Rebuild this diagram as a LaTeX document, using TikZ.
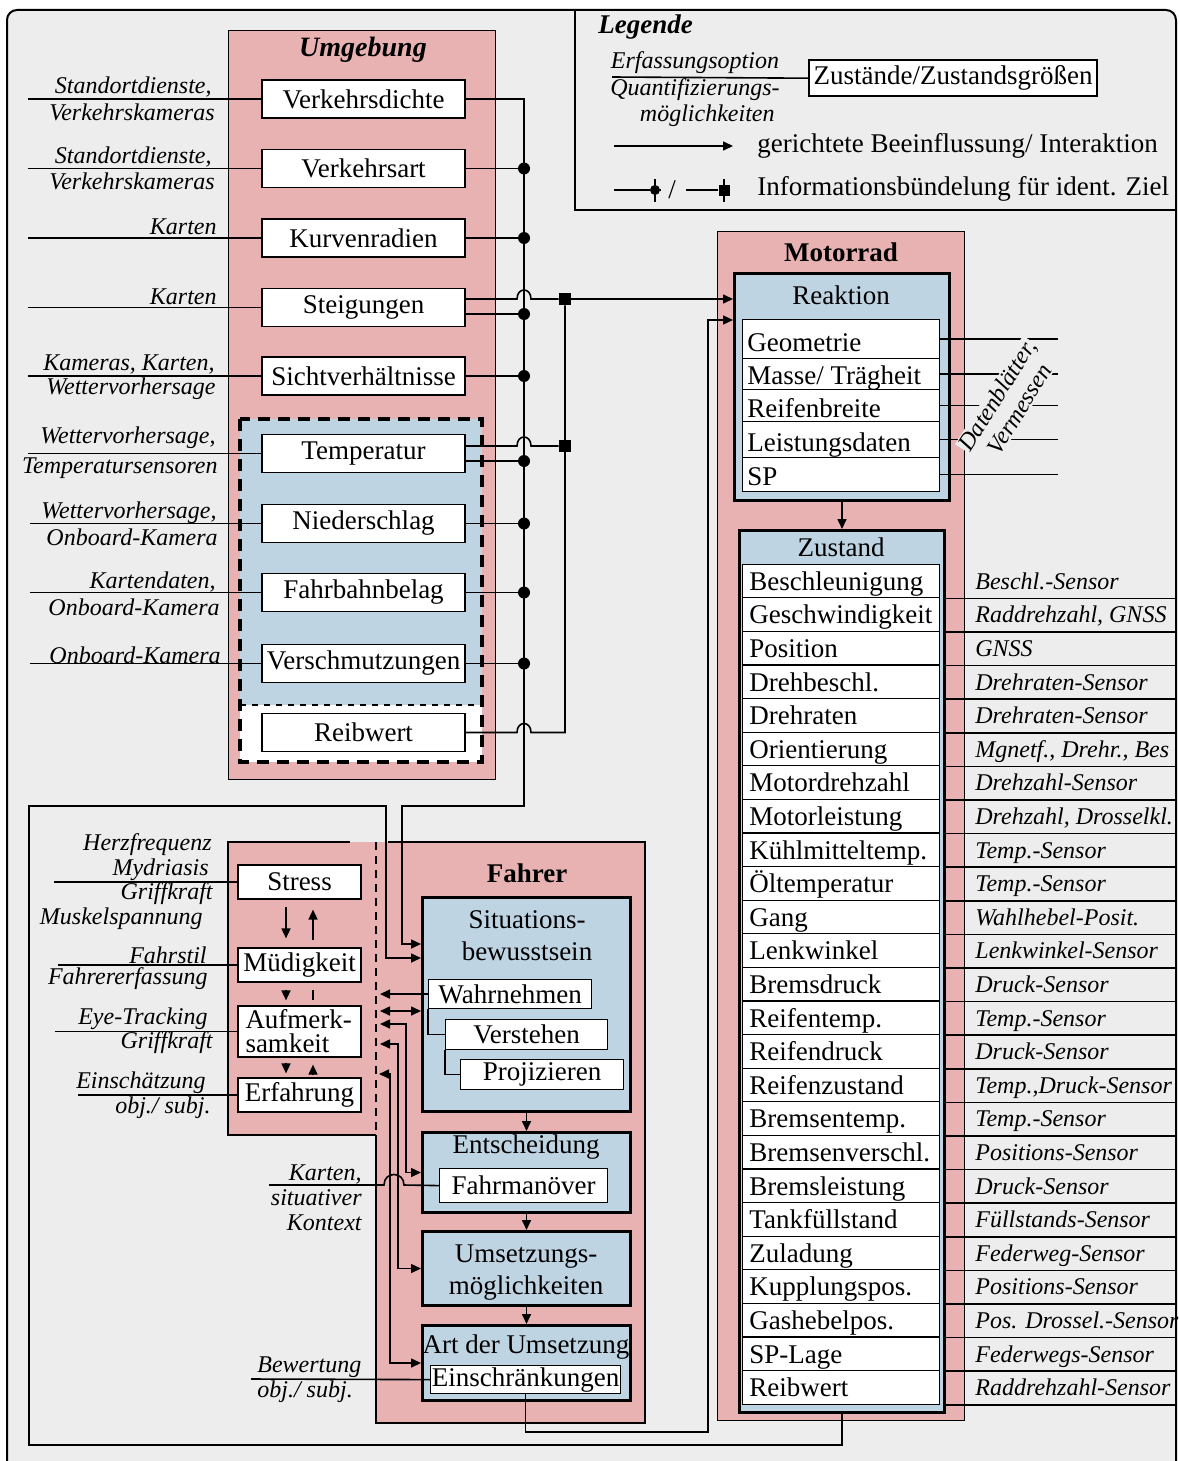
\documentclass[tikz,border=0pt]{standalone}
\usepackage{fontspec}
\setmainfont{Liberation Serif}
\usetikzlibrary{arrows.meta,calc}
\definecolor{bgc}{HTML}{EDEDED}
\definecolor{pinkc}{HTML}{E8B2B2}
\definecolor{bluec}{HTML}{BFD4E3}
\newcommand\msz{\fontsize{13.5}{15}\selectfont}
\newcommand\lsz{\fontsize{12}{13}\selectfont\itshape}
\newcommand\hsz{\fontsize{13.5}{15}\selectfont\bfseries}
\newcommand\rcell[5]{%
  \node[wbox,anchor=north west,minimum width=98.5pt,minimum height=#4] (#1) at (742,#3) {};
  \node[txt,anchor=base west] at (747,#5) {#2};}
\begin{document}
\begin{tikzpicture}[x=0.5pt,y=-0.5pt,
  conn/.style={line width=0.8pt},
  arr/.style={conn,-{Triangle[length=5pt,width=4.5pt]}},
  arrb/.style={conn,{Triangle[length=5pt,width=4.5pt]}-{Triangle[length=5pt,width=4.5pt]}},
  wbox/.style={draw,fill=white,line width=0.6pt,inner sep=0pt,font=\msz},
  bbox/.style={draw,fill=bluec,line width=1.5pt,inner sep=0pt},
  lab/.style={font=\lsz,inner sep=0pt},
  txt/.style={font=\msz,inner sep=0pt},
  dotn/.style={circle,fill=black,inner sep=0pt,minimum size=6pt},
  sqn/.style={rectangle,fill=black,inner sep=0pt,minimum size=6pt},
]
\useasboundingbox (0,0) rectangle (1179,1461);
\fill[white] (0,0) rectangle (1179,1461);
\begin{scope}
\clip (0,0) rectangle (1179,1461);
\draw[line width=1pt,fill=bgc,rounded corners=5pt] (7,10) rectangle (1176,1500);
\end{scope}

% ---------------- Legend
\draw[line width=0.8pt] (575,10) -- (575,210) -- (1176,210);
\node[font=\fontsize{13.5}{15}\selectfont\bfseries\itshape,anchor=west,inner sep=0pt] (legt) at (598,27) {Legende};
\node[wbox,line width=1.2pt,minimum width=144pt,minimum height=18pt,anchor=north west] (legbox) at (808,59) {Zustände/Zustandsgrößen};
\node[lab] (lg1) at (695,63) {Erfassungsoption};
\node[lab] (lg2) at (695,90) {Quantifizierungs-};
\node[lab,anchor=east] (lg3) at (775,116) {möglichkeiten};
\coordinate (lgs) at (612,77);
\draw[conn] (lgs) -- (legbox.west);
\coordinate (la1) at (614,146);
\coordinate (la2) at (733,146);
\draw[arr] (la1) -- (la2);
\node[txt,anchor=west] (lgt1) at (757,146) {gerichtete Beeinflussung/ Interaktion};
\coordinate (lb1) at (614,190);
\node[dotn,minimum size=5pt] (ld) at (655,190) {};
\draw[conn] (lb1) -- (ld) -- (660,190);
\draw[conn] (655,179) -- (655,202);
\node[txt] (lsl) at (672,190) {/};
\coordinate (lb2) at (686,190);
\node[sqn,minimum size=5.5pt] (lsq) at (724,190) {};
\draw[conn] (lb2) -- (lsq);
\draw[conn] (724,179) -- (724,202);
\node[txt,anchor=west] (lgt2) at (757,189) {Informationsbündelung für ident. Ziel};

% ---------------- Umgebung
\node[draw,fill=pinkc,line width=0.6pt,minimum width=133.5pt,minimum height=374.5pt,anchor=north west,inner sep=0pt] (umg) at (228,30) {};
\node[font=\fontsize{14}{16}\selectfont\bfseries\itshape] (umgt) at (363,50) {Umgebung};
\fill[bluec] (240,419) rectangle (482,705);
\fill[white] (240,705) rectangle (482,762);
\draw[line width=0.6pt,dash pattern=on 3pt off 3pt] (240,705) -- (482,705);
\draw[line width=1.6pt,dash pattern=on 6pt off 4pt] (240,419) rectangle (482,762);

\node[wbox,minimum width=101.5pt,minimum height=19pt] (vd) at (363.5,99) {Verkehrsdichte};
\node[wbox,minimum width=101.5pt,minimum height=19pt] (vart) at (363.5,168.5) {Verkehrsart};
\node[wbox,minimum width=101.5pt,minimum height=19pt] (kr) at (363.5,238) {Kurvenradien};
\node[wbox,minimum width=101.5pt,minimum height=19pt] (st) at (363.5,307.5) {Steigungen};
\node[wbox,minimum width=101.5pt,minimum height=19pt] (sv) at (363.5,376) {Sichtverhältnisse};
\node[wbox,minimum width=101.5pt,minimum height=19pt] (te) at (363.5,453.5) {Temperatur};
\node[wbox,minimum width=101.5pt,minimum height=19pt] (ns) at (363.5,523.5) {Niederschlag};
\node[wbox,minimum width=101.5pt,minimum height=19pt] (fb) at (363.5,592.5) {Fahrbahnbelag};
\node[wbox,minimum width=101.5pt,minimum height=19pt] (vs) at (363.5,663.5) {Verschmutzungen};
\node[wbox,minimum width=101.5pt,minimum height=19pt] (rw) at (363.5,732.5) {Reibwert};

% left labels Umgebung
\coordinate (u1) at (28,99);  \draw[conn] (u1) -- (vd.west);
\node[lab,anchor=east] at (212,87) {Standortdienste,};
\node[lab,anchor=east] at (215,112) {Verkehrskameras};
\coordinate (u2) at (28,168.5); \draw[conn] (u2) -- (vart.west);
\node[lab,anchor=east] at (212,157) {Standortdienste,};
\node[lab,anchor=east] at (215,181) {Verkehrskameras};
\coordinate (u3) at (28,238); \draw[conn] (u3) -- (kr.west);
\node[lab,anchor=east] at (217,227) {Karten};
\coordinate (u4) at (28,307.5); \draw[conn] (u4) -- (st.west);
\node[lab,anchor=east] at (217,297) {Karten};
\coordinate (u5) at (28,376); \draw[conn] (u5) -- (sv.west);
\node[lab,anchor=east] at (215,364) {Kameras, Karten,};
\node[lab,anchor=east] at (216,389) {Wettervorhersage};
\coordinate (u6) at (28,453.5); \draw[conn] (u6) -- (te.west);
\node[lab,anchor=east] at (216,438) {Wettervorhersage,};
\node[lab,anchor=east] at (218,468) {Temperatursensoren};
\coordinate (u7) at (30,523.5); \draw[conn] (u7) -- (ns.west);
\node[lab,anchor=east] at (217,513) {Wettervorhersage,};
\node[lab,anchor=east] at (218,537) {Onboard-Kamera};
\coordinate (u8) at (30,592.5); \draw[conn] (u8) -- (fb.west);
\node[lab,anchor=east] at (216,582) {Kartendaten,};
\node[lab,anchor=east] at (220,607) {Onboard-Kamera};
\coordinate (u9) at (30,663.5); \draw[conn] (u9) -- (vs.west);
\node[lab,anchor=east] at (221,655) {Onboard-Kamera};

% ---------------- Motorrad
\node[draw,fill=pinkc,line width=0.6pt,minimum width=123.5pt,minimum height=594.5pt,anchor=north west,inner sep=0pt] (mot) at (717,231) {};
\node[font=\hsz] (mott) at (841,252) {Motorrad};
\node[bbox,minimum width=107.5pt,minimum height=113.5pt,anchor=north west] (reak) at (733,272) {};
\node[txt] (reakt) at (841,295) {Reaktion};
\rcell{rc1}{Geometrie}{319}{19.5pt}{351}
\rcell{rc2}{Masse/ Trägheit}{358}{15.5pt}{384}
\rcell{rc3}{Reifenbreite}{389}{16pt}{417}
\rcell{rc4}{Leistungsdaten}{421}{18pt}{451}
\rcell{rc5}{SP}{457}{17pt}{485}
\coordinate (dbx) at (1058,0);
\foreach \k in {1,...,5} {\draw[conn] (rc\k.east) -- (rc\k.east -| dbx);}
\node[lab,align=center,rotate=58,fill=bgc,inner sep=0.5pt] (db) at (1008,402) {Datenblätter,\\Vermessen};

\node[bbox,minimum width=102.5pt,minimum height=441pt,anchor=north west] (zust) at (738,529) {};
\node[txt] (zustt) at (841,547) {Zustand};
\draw[arr] (reak.south) -- (zust.north);
\coordinate (fr) at (1176,0);
\foreach \tx/\sx [count=\i] in {Beschleunigung/Beschl.-Sensor, Geschwindigkeit/{Raddrehzahl, GNSS}, Position/GNSS, Drehbeschl./Drehraten-Sensor, Drehraten/Drehraten-Sensor, Orientierung/{Mgnetf., Drehr., Bes}, Motordrehzahl/Drehzahl-Sensor, Motorleistung/{Drehzahl, Drosselkl.}, Kühlmitteltemp./Temp.-Sensor, Öltemperatur/Temp.-Sensor, Gang/Wahlhebel-Posit., Lenkwinkel/Lenkwinkel-Sensor, Bremsdruck/Druck-Sensor, Reifentemp./Temp.-Sensor, Reifendruck/Druck-Sensor, Reifenzustand/{Temp.,Druck-Sensor}, Bremsentemp./Temp.-Sensor, Bremsenverschl./Positions-Sensor, Bremsleistung/Druck-Sensor, Tankfüllstand/Füllstands-Sensor, Zuladung/Federweg-Sensor, Kupplungspos./Positions-Sensor, Gashebelpos./{Pos. Drossel.-Sensor}, SP-Lage/Federwegs-Sensor, Reibwert/Raddrehzahl-Sensor} {
  \pgfmathsetmacro\yt{563.6+(\i-1)*33.6}
  \pgfmathsetmacro\yb{\yt+33.6}
  \node[wbox,anchor=north west,minimum width=98.5pt,minimum height=16.8pt] (z\i) at (742,\yt) {};
  \node[txt,anchor=base west] at (749,\yb-7) {\tx};
  \draw[conn] (z\i.south east -| zust.east) -- (z\i.south east -| fr);
  \node[lab,anchor=base west] at (975,\yb-8) {\sx};
}

% ---------------- Fahrer
\fill[pinkc] (228,842) -- (645,842) -- (645,1423) -- (376,1423) -- (376,1135) -- (228,1135) -- cycle;
\draw[line width=0.6pt] (350,842) -- (228,842) -- (228,1135) -- (376,1135);
\draw[line width=0.6pt] (388,842) -- (645,842) -- (645,1423) -- (376,1423) -- (376,1135);
\draw[line width=0.6pt,dash pattern=on 4pt off 3pt] (376,842) -- (376,1135);
\node[font=\hsz] (fahrt) at (527,873) {Fahrer};

\node[wbox,minimum width=61.5pt,minimum height=17pt] (stress) at (299.5,882) {Stress};
\node[wbox,minimum width=61.5pt,minimum height=17pt] (mued) at (299.5,965) {Müdigkeit};
\node[wbox,minimum width=61.5pt,minimum height=25.5pt,align=left,text width=54pt,font=\fontsize{13.5}{12}\selectfont] (aufm) at (299.5,1031.5) {Aufmerk-\\samkeit};
\node[wbox,minimum width=61.5pt,minimum height=17pt] (erf) at (299.5,1095) {Erfahrung};

\draw[arr] ([xshift=-6.75pt,yshift=-3.5pt]stress.south) -- ([xshift=-6.75pt,yshift=4.5pt]mued.north);
\draw[arr] ([xshift=6.75pt,yshift=3.5pt]mued.north) -- ([xshift=6.75pt,yshift=-5pt]stress.south);
\draw[arr] ([xshift=-6.75pt,yshift=-3.5pt]mued.south) -- ([xshift=-6.75pt,yshift=2.5pt]aufm.north);
\draw[conn] ([xshift=6.75pt,yshift=-3.5pt]mued.south) -- ([xshift=6.75pt,yshift=2.5pt]aufm.north);
\draw[arr] ([xshift=-6.75pt,yshift=-2.5pt]aufm.south) -- ([xshift=-6.75pt,yshift=2pt]erf.north);
\draw[arr] ([xshift=6.75pt,yshift=1pt]erf.north) -- ([xshift=6.75pt,yshift=-3.5pt]aufm.south);

\coordinate (f1) at (54,882);  \draw[conn] (f1) -- (stress.west);
\node[lab,anchor=east] at (212,845) {Herzfrequenz};
\node[lab,anchor=east] at (209,870) {Mydriasis};
\node[lab,anchor=east] at (213,894) {Griffkraft};
\node[lab,anchor=east] at (203,919) {Muskelspannung};
\coordinate (f2) at (58,965); \draw[conn] (f2) -- (mued.west);
\node[lab,anchor=east] at (207,955) {Fahrstil};
\node[lab,anchor=east] at (208,979) {Fahrererfassung};
\coordinate (f3) at (55,1031.5); \draw[conn] (f3) -- (aufm.west);
\node[lab,anchor=east] at (208,1019) {Eye-Tracking};
\node[lab,anchor=east] at (213,1043) {Griffkraft};
\coordinate (f4) at (78,1095); \draw[conn] (f4) -- (erf.west);
\node[lab,anchor=east] at (206,1083) {Einschätzung};
\node[lab,anchor=east] at (211,1108) {obj./ subj.};

\node[bbox,minimum width=104pt,minimum height=107pt,anchor=north west] (sit) at (421,896) {};
\node[txt,align=center,font=\fontsize{13.5}{16}\selectfont] (sitt) at (527,936) {Situations-\\bewusstsein};
\node[wbox,minimum width=81.5pt,minimum height=14.5pt,anchor=north west] (wahr) at (428,979) {Wahrnehmen};
\node[wbox,minimum width=81pt,minimum height=15pt,anchor=north west] (vers) at (445,1019) {Verstehen};
\node[wbox,minimum width=81.5pt,minimum height=15pt,anchor=north west] (proj) at (460,1059) {Projizieren};
\draw[line width=0.6pt] (wahr.south west) |- (vers.west);
\draw[line width=0.6pt] (vers.south west) |- (proj.west);

\node[bbox,minimum width=104pt,minimum height=40pt,anchor=north west] (ent) at (421,1131) {};
\node[txt] (entt) at (526,1147) {Entscheidung};
\node[wbox,minimum width=84pt,minimum height=17pt,anchor=north west] (fm) at (439,1168) {Fahrmanöver};
\node[bbox,minimum width=104pt,minimum height=37pt,anchor=north west] (ums) at (421,1230) {};
\node[txt,align=center,font=\fontsize{13.5}{16}\selectfont] (umst) at (526,1273) {Umsetzungs-\\möglichkeiten};
\node[bbox,minimum width=104pt,minimum height=37.5pt,anchor=north west] (art) at (421,1324) {};
\node[txt] (artt) at (526,1347) {Art der Umsetzung};
\node[wbox,minimum width=95pt,minimum height=14pt,anchor=north west] (ein) at (430,1365) {Einschränkungen};

\draw[arr] (sit.south) -- (ent.north);
\draw[arr] (ent.south) -- (ums.north);
\draw[arr] (ums.south) -- (art.north);

\coordinate (fl) at (380,0);
\draw[arr] (wahr.west) -- (wahr.west -| fl);
\coordinate (c1) at (380,1011);
\draw[arrb] (c1) -- (c1 -| sit.west);
\coordinate (c2) at (380,1024);
\draw[arrb] (c2) -- (406,1024) |- (ent.west);
\coordinate (c3) at (380,1044);
\draw[arrb] (c3) -- (398,1044) |- (ums.west);
\coordinate (c4) at (379,1074);
\draw[arrb] (c4) -- (390,1074) |- (art.west);

\coordinate (k1) at (269,1185);
\draw[conn] (k1) -- (384,1185) .. controls (384,1171) and (404,1171) .. (404,1185) -- (fm.west);
\node[lab,anchor=east] at (362,1174) {Karten,};
\node[lab,anchor=east] at (362,1198) {situativer};
\node[lab,anchor=east] at (362,1223) {Kontext};
\coordinate (b1) at (251,1379);
\draw[conn] (b1) -- (ein.west);
\node[lab,anchor=west] at (257,1367) {Bewertung};
\node[lab,anchor=west] at (257,1392) {obj./ subj.};

% ---------------- Bus connections
\node[dotn] (d2) at (524,168.5) {};
\node[dotn] (d3) at (524,238) {};
\node[dotn] (d4) at (524,314) {};
\node[dotn] (d5) at (524,376) {};
\node[dotn] (d6) at (524,461) {};
\node[dotn] (d7) at (524,523.5) {};
\node[dotn] (d8) at (524,592.5) {};
\node[dotn] (d9) at (524,663.5) {};
\node[sqn] (sq1) at (565,299) {};
\node[sqn] (sq2) at (565,446) {};
\coordinate (s1) at (421,944);
\coordinate (s2) at (421,958);
\coordinate (r2) at (733,320);

\draw[arr] (vd.east) -| (524,806) -- (402,806) -- (402,944) -- (s1);
\draw[conn] (vart.east) -- (d2);
\draw[conn] (kr.east) -- (d3);
\draw[conn] ([yshift=-3.25pt]st.east) -- (d4);
\draw[conn] (sv.east) -- (d5);
\draw[conn] ([yshift=-3.75pt]te.east) -- (d6);
\draw[conn] (ns.east) -- (d7);
\draw[conn] (fb.east) -- (d8);
\draw[conn] (vs.east) -- (d9);
\draw[conn] ([yshift=4.25pt]st.east) -- (517,299) .. controls (517,287) and (531,287) .. (531,299) -- (sq1);
\draw[conn] ([yshift=3.75pt]te.east) -- (517,446) .. controls (517,434) and (531,434) .. (531,446) -- (sq2);
\draw[conn] (rw.east) -- (517,732.5) .. controls (517,720.5) and (531,720.5) .. (531,732.5) -- (565,732.5) -- (sq1);
\draw[arr] (sq1) -- (sq1 -| reak.west);

\draw[arr] (zust.south) |- (29,1445) -- (29,806) -- (386,806) -- (386,958) -- (s2);
\draw[arr] (ein.south) |- (708,1432) -- (708,320) -- (r2);
\end{tikzpicture}
\end{document}
